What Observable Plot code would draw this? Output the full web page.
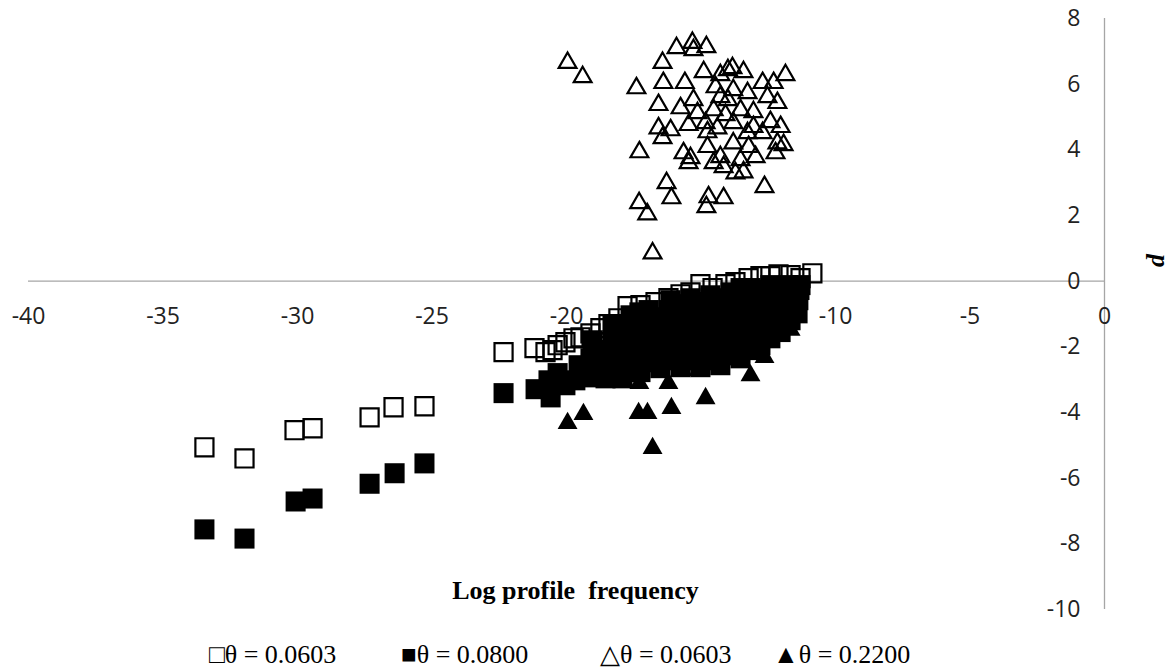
<!DOCTYPE html>
<html>
<head>
<meta charset="utf-8">
<script src="https://cdn.jsdelivr.net/npm/d3@7"></script>
<script src="https://cdn.jsdelivr.net/npm/@observablehq/plot@0.6"></script>
<style>
  html, body { margin: 0; padding: 0; background: #fff; }
  #wrap { position: relative; width: 1174px; height: 670px; }
  #chart svg { display: block; }
  .leg { position: absolute; top: 640px; font-family: "Liberation Serif", "Times New Roman", serif; font-size: 26px; color: #000; white-space: nowrap; line-height: 30px; }
</style>
</head>
<body>
<div id="wrap">
  <div id="chart"></div>
  <span class="leg" style="left:209px">□θ = 0.0603</span>
  <span class="leg" style="left:401px">■θ = 0.0800</span>
  <span class="leg" style="left:600px">△θ = 0.0603</span>
  <span class="leg" style="left:773px">▲θ = 0.2200</span>
</div>
<script>
// Tick labels
const xTicks = [-40, -35, -30, -25, -20, -15, -10, -5, 0];
const yTicks = [8, 6, 4, 2, 0, -2, -4, -6, -8, -10];

// Series: [log profile frequency, d]
const openSquares = [ // θ = 0.0603
  [-33.46,-5.06],[-31.97,-5.40],[-30.11,-4.54],[-29.44,-4.48],[-27.32,-4.15],[-26.43,-3.84],[-25.28,-3.81],
  [-22.34,-2.16],[-21.19,-2.04],[-20.78,-2.16],[-20.52,-2.10],[-20.33,-1.95],[-20.04,-1.86],[-19.74,-1.74],
  [-19.48,-1.71],[-19.11,-1.59],[-18.74,-1.43],[-18.44,-1.31],[-18.07,-1.13],[-17.73,-0.76],[-17.25,-0.73],
  [-16.69,-0.64],[-16.21,-0.52],[-15.76,-0.40],[-15.39,-0.34],[-15.02,-0.09],[-14.57,-0.21],[-14.09,-0.09],
  [-13.72,-0.03],[-13.23,0.09],[-12.79,0.15],[-12.42,0.15],[-12.12,0.21],[-11.67,0.18],[-11.30,0.09],[-10.86,0.24],
  [-17.25,-1.49],[-15.76,-1.19],[-14.28,-0.88],[-12.79,-0.58],[-18.74,-2.10],[-16.88,-1.80],[-15.02,-1.49],
  [-13.53,-1.19],[-12.04,-0.58]
];
const filledSquares = [ // θ = 0.0800
  [-33.46,-7.56],[-31.97,-7.84],[-30.07,-6.71],[-29.44,-6.62],[-27.32,-6.17],[-26.39,-5.85],[-25.28,-5.55],
  [-22.34,-3.41],[-21.15,-3.29],[-20.59,-3.54],[-20.67,-3.02],[-20.33,-2.80],[-20.04,-3.17],[-19.55,-2.56],[-19.67,-3.02],
  [-19.11,-2.93],[-19.11,-2.35],[-19.03,-1.80],
  [-18.85,-2.65],[-18.81,-2.10],
  [-18.55,-2.96],[-18.48,-2.41],[-18.29,-1.80],[-18.29,-1.34],
  [-18.22,-2.71],[-18.14,-2.16],[-18.07,-1.65],
  [-17.92,-2.96],[-17.81,-2.41],[-17.81,-1.95],[-17.70,-1.49],[-17.62,-1.04],
  [-17.55,-2.71],[-17.51,-2.26],[-17.43,-1.80],[-17.36,-1.34],[-17.29,-0.95],
  [-17.25,-2.77],[-17.17,-2.26],[-17.06,-1.74],[-17.06,-1.25],[-16.95,-0.88],
  [-16.88,-2.47],[-16.80,-2.01],[-16.73,-1.55],[-16.65,-1.10],
  [-16.51,-2.65],[-16.51,-2.26],[-16.43,-1.80],[-16.32,-1.34],[-16.21,-0.88],[-16.13,-0.58],
  [-16.13,-2.41],[-16.06,-1.95],[-15.95,-1.49],[-15.87,-1.07],[-15.80,-0.70],
  [-15.76,-2.62],[-15.69,-2.16],[-15.61,-1.74],[-15.54,-1.25],[-15.46,-0.82],[-15.39,-0.52],
  [-15.39,-2.41],[-15.28,-1.95],[-15.20,-1.49],[-15.13,-1.01],[-15.06,-0.64],
  [-15.02,-2.62],[-14.94,-2.10],[-14.87,-1.65],[-14.80,-1.19],[-14.72,-0.73],[-14.65,-0.43],
  [-14.65,-2.41],[-14.54,-1.86],[-14.46,-1.40],[-14.39,-0.95],[-14.31,-0.52],
  [-14.28,-2.56],[-14.20,-2.04],[-14.13,-1.59],[-14.05,-1.13],[-13.98,-0.67],[-13.90,-0.34],
  [-13.90,-2.26],[-13.79,-1.80],[-13.72,-1.34],[-13.64,-0.88],[-13.57,-0.46],[-13.53,-0.21],
  [-13.53,-2.35],[-13.46,-1.89],[-13.38,-1.43],[-13.31,-0.98],[-13.23,-0.52],[-13.16,-0.21],
  [-13.16,-2.10],[-13.09,-1.68],[-12.97,-1.19],[-12.90,-0.76],[-12.83,-0.37],
  [-12.79,-1.95],[-12.71,-1.59],[-12.64,-1.13],[-12.57,-0.67],[-12.49,-0.27],[-12.42,-0.12],
  [-12.42,-1.74],[-12.34,-1.34],[-12.23,-0.91],[-12.16,-0.52],[-12.08,-0.21],
  [-12.04,-1.55],[-11.97,-1.19],[-11.90,-0.73],[-11.82,-0.34],[-11.75,-0.12],
  [-11.67,-1.19],[-11.64,-0.82],[-11.60,-0.46],[-11.56,-0.18],
  [-11.41,-0.98],[-11.38,-0.58],[-11.34,-0.27],[-11.30,-0.12]
];
const openTriangles = [ // θ = 0.0603
  [-19.96,6.65],[-19.40,6.22],[-17.40,5.88],[-17.29,3.93],[-17.30,2.38],[-17.00,2.04],[-16.80,0.85],
  [-16.43,6.65],[-16.40,6.04],[-16.58,5.37],[-16.58,4.66],[-16.43,4.36],[-16.13,4.60],[-16.28,2.99],
  [-16.10,2.53],[-15.91,7.10],[-15.32,7.26],[-15.28,7.04],[-14.80,7.13],[-15.60,6.04],[-14.90,6.37],
  [-15.76,5.27],[-15.28,5.52],[-15.46,4.76],[-15.65,3.90],[-15.39,3.75],[-15.46,3.60],[-14.76,4.09],
  [-14.72,2.56],[-14.80,2.26],[-14.16,2.53],[-14.53,3.60],[-14.16,3.48],[-13.72,3.29],[-13.42,3.32],
  [-12.64,2.87],[-14.28,6.28],[-14.00,6.43],[-13.83,6.49],[-13.42,6.37],[-14.46,5.91],[-14.28,5.61],
  [-13.80,5.82],[-13.27,5.73],[-14.53,5.21],[-14.09,5.06],[-13.53,5.21],[-13.05,5.15],[-14.83,4.82],
  [-14.39,4.66],[-13.80,4.82],[-13.27,4.51],[-13.80,4.20],[-13.23,4.09],[-12.71,6.04],[-12.30,6.04],
  [-11.86,6.28],[-12.53,5.61],[-12.16,5.43],[-12.42,4.85],[-12.04,4.70],[-12.71,4.51],[-12.16,4.20],
  [-12.23,3.90],[-11.93,4.15],[-12.97,3.78],[-13.53,3.69],[-14.28,3.78],[-14.76,4.54],[-15.13,5.12],
  [-13.05,4.70],[-14.00,5.52]
];
const filledTriangles = [ // θ = 0.2200
  [-19.96,-4.33],[-19.37,-4.05],[-18.29,-3.08],[-17.32,-4.02],[-16.99,-4.02],[-17.29,-3.11],[-16.21,-3.11],
  [-16.10,-3.87],[-16.80,-5.09],[-15.09,-2.71],[-14.83,-3.57],[-13.16,-2.87],[-12.64,-2.32],
  [-14.28,-1.80],[-12.79,-1.19],[-15.39,-1.49],[-16.88,-2.10],[-13.53,-0.58],[-12.04,-0.88],[-11.67,-1.49]
];

const labelFont = "Open Sans, Noto Sans, sans-serif";

const chart = Plot.plot({
  width: 1174,
  height: 635,
  marginLeft: 28,
  marginRight: 70,
  marginTop: 18,
  marginBottom: 26,
  x: {domain: [-40, 0], axis: null},
  y: {domain: [-10, 8], axis: null},
  marks: [
    Plot.ruleY([0], {stroke: "#a6a6a6", strokeWidth: 1.3}),
    Plot.ruleX([0], {stroke: "#a6a6a6", strokeWidth: 1.3}),
    Plot.text(xTicks, {x: d => d, y: 0, dy: 35, text: d => `${d}`, fontSize: 23, fontFamily: labelFont, fill: "#222"}),
    Plot.text(yTicks, {x: 0, y: d => d, dx: -24, textAnchor: "end", text: d => `${d}`, fontSize: 23, fontFamily: labelFont, fill: "#222"}),
    Plot.dot(openSquares, {x: d => d[0], y: d => d[1], symbol: "square", r: 10.2, stroke: "#000", strokeWidth: 2.2, fill: "none"}),
    Plot.dot(filledSquares, {x: d => d[0], y: d => d[1], symbol: "square", r: 11.3, fill: "#000", stroke: "none"}),
    Plot.dot(openTriangles, {x: d => d[0], y: d => d[1], symbol: "triangle", r: 6.6, stroke: "#000", strokeWidth: 2.2, fill: "none"}),
    Plot.dot(filledTriangles, {x: d => d[0], y: d => d[1], symbol: "triangle", r: 7.4, fill: "#000", stroke: "none"}),
    Plot.text(["Log profile  frequency"], {frameAnchor: "bottom", lineAnchor: "bottom", dy: -11, dx: 9, fontSize: 26, fontWeight: "bold", fontFamily: "Liberation Serif, Times New Roman, serif", fill: "#000"}),
    Plot.text(["d"], {frameAnchor: "right", dx: 51, dy: -60, rotate: -90, fontSize: 26, fontWeight: "bold", fontStyle: "italic", fontFamily: "Liberation Serif, Times New Roman, serif", fill: "#000"})
  ]
});
document.getElementById("chart").appendChild(chart);
</script>
</body>
</html>
